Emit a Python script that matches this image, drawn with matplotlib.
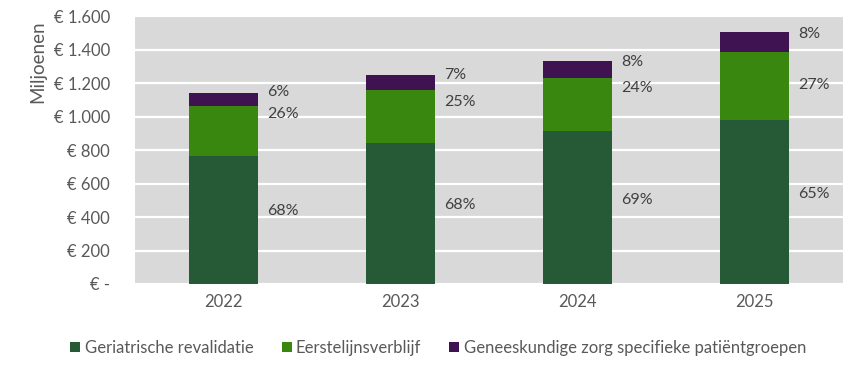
import matplotlib
matplotlib.use("Agg")
import matplotlib.pyplot as plt
from matplotlib.ticker import FuncFormatter

years = ["2022", "2023", "2024", "2025"]
geriatrisch = [767, 841, 912, 977]
eerstelijn = [299, 315, 318, 409]
geneeskundig = [72, 90, 100, 118]

pct_geriatrisch = ["68%", "68%", "69%", "65%"]
pct_eerstelijn = ["26%", "25%", "24%", "27%"]
pct_geneeskundig = ["6%", "7%", "8%", "8%"]

# label heights (data units) as placed in the original
y_lab_geriatrisch = [437, 473, 503, 539]
y_lab_eerstelijn = [1018, 1090, 1168, 1186]
y_lab_geneeskundig = [1144, 1246, 1324, 1492]

c_dark = "#265a37"
c_light = "#3a870f"
c_purple = "#3f1352"

plt.rcParams["font.family"] = ["Lato", "DejaVu Sans"]

fig = plt.figure(figsize=(8.66, 3.67), dpi=100)
ax = fig.add_axes([0.1559, 0.2262, 0.8175, 0.7298])
ax.set_facecolor("#d9d9d9")

x = range(len(years))
w = 0.395
ax.bar(x, geriatrisch, w, color=c_dark, label="Geriatrische revalidatie", zorder=3)
bottom2 = geriatrisch
ax.bar(x, eerstelijn, w, bottom=bottom2, color=c_light, label="Eerstelijnsverblijf", zorder=3)
bottom3 = [a + b for a, b in zip(geriatrisch, eerstelijn)]
ax.bar(x, geneeskundig, w, bottom=bottom3, color=c_purple,
       label="Geneeskundige zorg specifieke patiëntgroepen", zorder=3)

for i in x:
    xl = i + w / 2 + 0.05
    for yv, t in [(y_lab_geriatrisch[i], pct_geriatrisch[i]),
                  (y_lab_eerstelijn[i], pct_eerstelijn[i]),
                  (y_lab_geneeskundig[i], pct_geneeskundig[i])]:
        ax.text(xl, yv, t, ha="left", va="center", fontsize=11.5, color="#404040", zorder=4)

ax.set_xlim(-0.5, 3.5)
ax.set_ylim(0, 1600)
ax.set_yticks(range(0, 1601, 200))
ax.yaxis.set_major_formatter(FuncFormatter(
    lambda v, p: "€ -" if v == 0 else "€ " + f"{int(v):,}".replace(",", ".")))
ax.set_xticks(list(x))
ax.set_xticklabels(years)
ax.tick_params(axis="both", length=0, labelsize=12, labelcolor="#595959")
ax.tick_params(axis="y", pad=18)
ax.tick_params(axis="x", pad=7)
ax.grid(axis="y", color="white", linewidth=1.6, zorder=1)
for s in ax.spines.values():
    s.set_visible(False)

fig.text(38 / 866, 1 - 62 / 367, "Miljoenen", rotation=90, ha="center", va="center",
         fontsize=13.5, color="#595959")

fig.legend(loc="center", bbox_to_anchor=(0.506, 1 - 348 / 367), ncol=3, frameon=False,
           fontsize=12, labelcolor="#595959", handlelength=0.6, handleheight=0.6,
           handletextpad=0.25, columnspacing=1.7)

fig.savefig("out.png", dpi=100)
